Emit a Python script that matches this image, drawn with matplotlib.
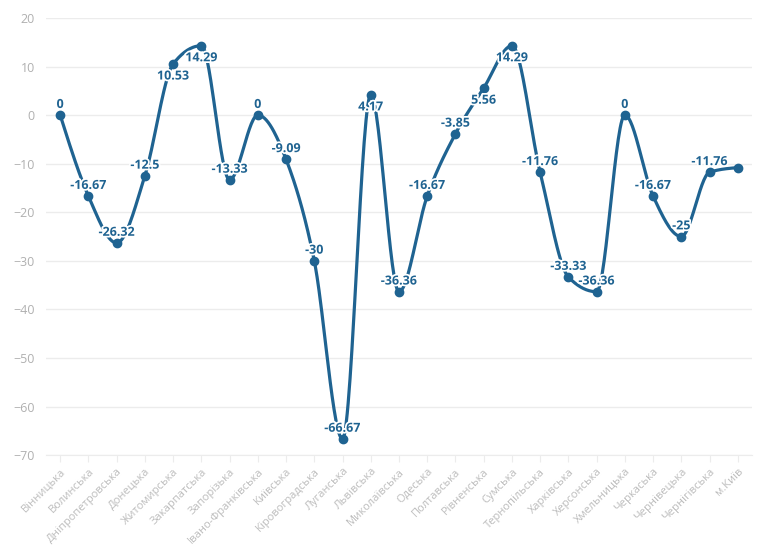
import numpy as np
import matplotlib
matplotlib.use("Agg")
import matplotlib.pyplot as plt
import matplotlib.patheffects as pe
from matplotlib.transforms import ScaledTranslation

plt.rcParams['font.family'] = ['Open Sans', 'DejaVu Sans']

# data
regions = ["Вінницька", "Волинська", "Дніпропетровська", "Донецька", "Житомирська",
           "Закарпатська", "Запорізька", "Івано-Франківська", "Київська", "Кіровоградська",
           "Луганська", "Львівська", "Миколаївська", "Одеська", "Полтавська",
           "Рівненська", "Сумська", "Тернопільська", "Харківська", "Херсонська",
           "Хмельницька", "Черкаська", "Чернівецька", "Чернігівська", "м.Київ"]
values = [0, -16.67, -26.32, -12.5, 10.53,
          14.29, -13.33, 0, -9.09, -30,
          -66.67, 4.17, -36.36, -16.67, -3.85,
          5.56, 14.29, -11.76, -33.33, -36.36,
          0, -16.67, -25, -11.76, -10.81]
labels = ["0", "-16.67", "-26.32", "-12.5", "10.53",
          "14.29", "-13.33", "0", "-9.09", "-30",
          "-66.67", "4.17", "-36.36", "-16.67", "-3.85",
          "5.56", "14.29", "-11.76", "-33.33", "-36.36",
          "0", "-16.67", "-25", "-11.76", ""]
yticks = list(range(-70, 21, 10))

color = "#1f6391"


def monotone_x(x, y, n=30):
    # monotone cubic curve through the points (like d3 curveMonotoneX)
    h = np.diff(x)
    s = np.diff(y) / h
    m = np.zeros(len(x))
    for i in range(1, len(x) - 1):
        p = (s[i - 1] * h[i] + s[i] * h[i - 1]) / (h[i - 1] + h[i])
        m[i] = (np.sign(s[i - 1]) + np.sign(s[i])) * min(abs(s[i - 1]), abs(s[i]), 0.5 * abs(p))
    m[0] = (3 * s[0] - m[1]) / 2
    m[-1] = (3 * s[-1] - m[-2]) / 2
    xs, ys = [], []
    t = np.linspace(0, 1, n, endpoint=False)
    for i in range(len(x) - 1):
        h00 = 2 * t ** 3 - 3 * t ** 2 + 1
        h10 = t ** 3 - 2 * t ** 2 + t
        h01 = -2 * t ** 3 + 3 * t ** 2
        h11 = t ** 3 - t ** 2
        xs.append(x[i] + t * h[i])
        ys.append(h00 * y[i] + h10 * h[i] * m[i] + h01 * y[i + 1] + h11 * h[i] * m[i + 1])
    xs.append([x[-1]])
    ys.append([y[-1]])
    return np.concatenate(xs), np.concatenate(ys)


fig = plt.figure(figsize=(7.68, 5.55), dpi=100)
ax = fig.add_axes([0.06, 0.18, 0.919, 0.7876])

x = np.arange(len(regions), dtype=float)
y = np.array(values, dtype=float)
sx, sy = monotone_x(x, y)
ax.plot(sx, sy, color=color, lw=2.3, solid_capstyle='round', zorder=3)
ax.plot(x, y, 'o', color=color, ms=6, zorder=4)

halo = [pe.withStroke(linewidth=2.5, foreground='white')]
for xi, yi, lab in zip(x, y, labels):
    if not lab:
        continue
    if yi > 0:
        ax.annotate(lab, (xi, yi), xytext=(0, -4), textcoords='offset points',
                    ha='center', va='top', color=color, fontsize=9, fontweight='bold',
                    path_effects=halo, zorder=5)
    else:
        ax.annotate(lab, (xi, yi), xytext=(0, 3), textcoords='offset points',
                    ha='center', va='bottom', color=color, fontsize=9, fontweight='bold',
                    path_effects=halo, zorder=5)

ax.set_xlim(-0.5, len(regions) - 0.5)
ax.set_ylim(-70, 20)
ax.set_yticks(yticks)
ax.set_xticks(x)
ax.set_xticklabels(regions, rotation=45, ha='right', rotation_mode='anchor')
shift = ScaledTranslation(4 / 100, 0, fig.dpi_scale_trans)
for lbl in ax.get_xticklabels():
    lbl.set_transform(lbl.get_transform() + shift)
ax.grid(axis='y', color='#ececec', lw=1)
ax.set_axisbelow(True)
for s in ['top', 'right', 'left']:
    ax.spines[s].set_visible(False)
ax.spines['bottom'].set_color('#ececec')
ax.tick_params(axis='x', colors='#ececec', length=5, labelcolor='#bcbcbc', labelsize=8, pad=3)
ax.tick_params(axis='y', length=0, labelcolor='#b0b0b0', labelsize=9, pad=8)

fig.savefig("out.png", dpi=100)
